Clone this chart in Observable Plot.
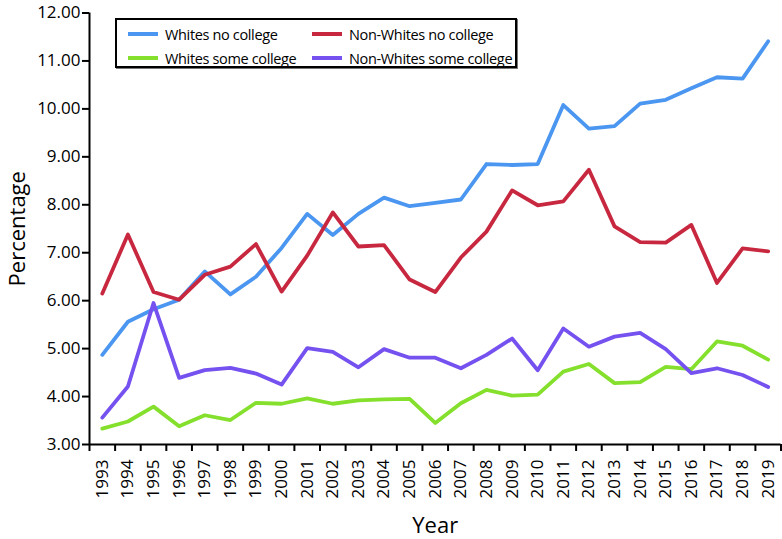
<!DOCTYPE html>
<html><head><meta charset="utf-8">
<script src="https://cdn.jsdelivr.net/npm/d3@7"></script>
<script src="https://cdn.jsdelivr.net/npm/@observablehq/plot@0.6"></script>
<style>
body{margin:0;background:#fff;font-family:"Open Sans",sans-serif;}
#wrap{position:relative;width:782px;height:539px;}
#legend{position:absolute;left:115px;top:18px;width:398px;height:46px;border:2px solid #000;box-shadow:1px 1px 0 #777;background:#fff;font-size:14.5px;letter-spacing:-0.35px;color:#000;}
.item{position:absolute;display:flex;align-items:center;height:20px;white-space:nowrap;}
.sw{width:30px;height:4px;margin-right:7px;}
[aria-label="y-axis label"], [aria-label="x-axis label"]{font-size:22px;}
</style></head>
<body><div id="wrap"></div>
<script>
const years = [1993,1994,1995,1996,1997,1998,1999,2000,2001,2002,2003,2004,2005,2006,2007,2008,2009,2010,2011,2012,2013,2014,2015,2016,2017,2018,2019];
const seriesNames = ["Whites no college","Non-Whites no college","Whites some college","Non-Whites some college"];
const seriesColors = ["#4a96f0","#c8283f","#84e02c","#7552f0"];
const whitesNoCollege = [4.87,5.56,5.82,6.02,6.61,6.13,6.50,7.10,7.81,7.37,7.81,8.15,7.97,8.04,8.11,8.85,8.83,8.85,10.08,9.59,9.64,10.11,10.19,10.43,10.66,10.63,11.41];
const nonWhitesNoCollege = [6.15,7.38,6.18,6.02,6.54,6.71,7.18,6.19,6.94,7.84,7.13,7.16,6.44,6.18,6.90,7.44,8.30,7.99,8.07,8.73,7.55,7.22,7.21,7.58,6.37,7.09,7.03];
const whitesSomeCollege = [3.33,3.48,3.79,3.38,3.61,3.51,3.87,3.85,3.96,3.85,3.92,3.94,3.95,3.45,3.86,4.14,4.02,4.04,4.52,4.68,4.28,4.30,4.62,4.57,5.15,5.06,4.77];
const nonWhitesSomeCollege = [3.56,4.21,5.95,4.39,4.55,4.60,4.48,4.25,5.01,4.93,4.61,4.99,4.81,4.81,4.59,4.87,5.21,4.55,5.42,5.04,5.25,5.33,4.99,4.49,4.59,4.45,4.20];
const yTicks = [3,4,5,6,7,8,9,10,11,12];

const seriesValues = [whitesNoCollege, nonWhitesNoCollege, whitesSomeCollege, nonWhitesSomeCollege];
const rows = [];
seriesNames.forEach((name, i) => years.forEach((yr, j) => rows.push({series: name, year: yr, value: seriesValues[i][j]})));
const boundaries = years.map(y => y - 0.5).concat([years[years.length - 1] + 0.5]);

const chart = Plot.plot({
  width: 782, height: 539,
  marginLeft: 89, marginRight: 1.5, marginTop: 12.5, marginBottom: 95,
  x: {type: "linear", domain: [boundaries[0], boundaries[boundaries.length - 1]]},
  y: {domain: [3, 12]},
  color: {domain: seriesNames, range: seriesColors},
  style: {fontFamily: "Open Sans", color: "#000", background: "#fff", overflow: "visible"},
  marks: [
    Plot.axisY(yTicks, {tickSize: 7, tickPadding: 2, strokeWidth: 2, fontSize: 17, tickFormat: d => d.toFixed(2), label: "Percentage", labelAnchor: "center", labelOffset: 80, labelArrow: "none"}),
    Plot.axisX(boundaries, {tickSize: 7, strokeWidth: 2, tickFormat: () => "", label: null}),
    Plot.axisX(years, {tickSize: 0, tickPadding: 15, tickRotate: -90, fontSize: 17, tickFormat: d => String(d), label: "Year", labelAnchor: "center", labelOffset: 88, labelArrow: "none"}),
    Plot.line(rows, {x: "year", y: "value", z: "series", stroke: "series", strokeWidth: 3.8}),
    Plot.ruleX([boundaries[0]], {strokeWidth: 2}),
    Plot.ruleY([3], {strokeWidth: 2})
  ]
});
const wrap = document.getElementById("wrap");
wrap.appendChild(chart);

const legend = document.createElement("div");
legend.id = "legend";
const pos = [[11, 4], [195, 4], [11, 28], [195, 28]];
seriesNames.forEach((name, k) => {
  const it = document.createElement("div");
  it.className = "item";
  it.style.left = pos[k][0] + "px";
  it.style.top = pos[k][1] + "px";
  const sw = document.createElement("span");
  sw.className = "sw";
  sw.style.background = seriesColors[k];
  const tx = document.createElement("span");
  tx.textContent = name;
  it.appendChild(sw); it.appendChild(tx);
  legend.appendChild(it);
});
wrap.appendChild(legend);
</script>
</body></html>
